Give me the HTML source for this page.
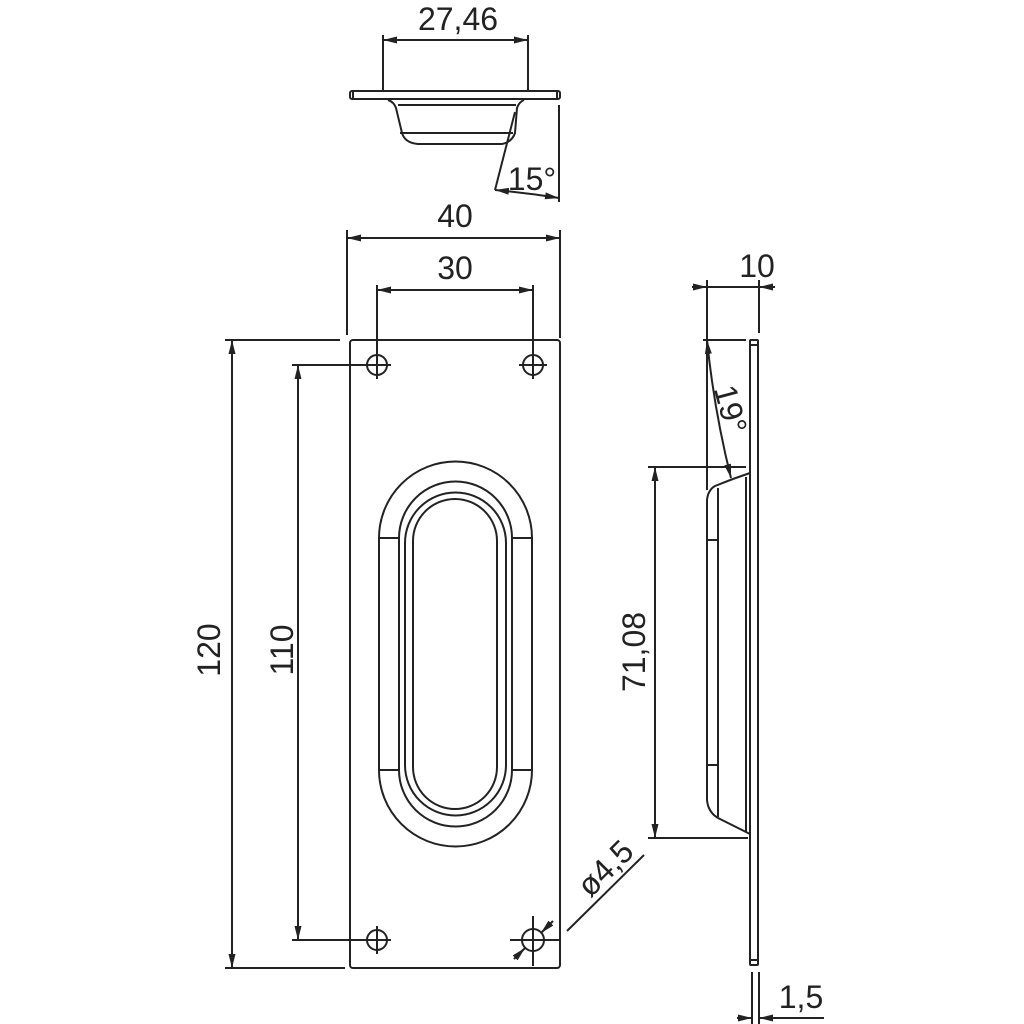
<!DOCTYPE html>
<html><head><meta charset="utf-8"><style>
html,body{margin:0;padding:0;background:#fff}
svg{display:block}
text{font-family:"Liberation Sans",sans-serif;fill:#222}
</style></head><body>
<svg width="1024" height="1024" viewBox="0 0 1024 1024" xmlns="http://www.w3.org/2000/svg">
<defs>
<marker id="a" viewBox="0 0 14 7" refX="14" refY="3.5" markerWidth="14" markerHeight="7" orient="auto-start-reverse" markerUnits="userSpaceOnUse"><path d="M0,0 L14,3.5 L0,7z" fill="#222"/></marker>
</defs>
<g stroke="#222" stroke-width="2" fill="none">
<!-- top view -->
<rect x="350" y="91" width="210" height="8" rx="2"/>
<line x1="353" y1="91" x2="353" y2="99"/><line x1="557" y1="91" x2="557" y2="99"/>
<path d="M388,100 Q394,102 396,108 L402,133 Q405,143 418,144 L502,144 Q512,142 515,133 L517,108 Q519,102 524,100"/>
<line x1="398" y1="105" x2="516" y2="105"/>
<line x1="400" y1="133" x2="513" y2="133"/>
<line x1="383" y1="35" x2="383" y2="92"/><line x1="528" y1="35" x2="528" y2="92"/>
<line x1="383" y1="40" x2="528" y2="40" marker-start="url(#a)" marker-end="url(#a)"/>
<line x1="559" y1="105" x2="559" y2="202"/>
<line x1="515" y1="112" x2="495" y2="190"/>
<path d="M495,190 Q527,193 559,198" marker-start="url(#a)" marker-end="url(#a)"/>
<!-- front plate -->
<rect x="350" y="340" width="210" height="628" rx="3"/>
<line x1="347" y1="230" x2="347" y2="335"/><line x1="560" y1="230" x2="560" y2="338"/>
<line x1="347" y1="238" x2="560" y2="238" marker-start="url(#a)" marker-end="url(#a)"/>
<line x1="377" y1="285" x2="377" y2="352"/><line x1="533" y1="285" x2="533" y2="352"/>
<line x1="377" y1="290" x2="533" y2="290" marker-start="url(#a)" marker-end="url(#a)"/>
<line x1="225" y1="340" x2="340" y2="340"/><line x1="225" y1="968" x2="345" y2="968"/>
<line x1="232" y1="340" x2="232" y2="968" marker-start="url(#a)" marker-end="url(#a)"/>
<line x1="292" y1="365" x2="363" y2="365"/><line x1="292" y1="940" x2="363" y2="940"/>
<line x1="298" y1="365" x2="298" y2="940" marker-start="url(#a)" marker-end="url(#a)"/>
<!-- holes -->
<circle cx="377" cy="365" r="10"/><line x1="363" y1="365" x2="391" y2="365"/><line x1="377" y1="351" x2="377" y2="379"/>
<circle cx="533" cy="365" r="10"/><line x1="519" y1="365" x2="547" y2="365"/><line x1="533" y1="351" x2="533" y2="379"/>
<circle cx="377" cy="940" r="10"/><line x1="363" y1="940" x2="391" y2="940"/><line x1="377" y1="926" x2="377" y2="954"/>
<circle cx="533" cy="940" r="11"/><line x1="510" y1="940" x2="559" y2="940"/><line x1="533" y1="916" x2="533" y2="966"/>
<line x1="553" y1="921" x2="541" y2="933" marker-end="url(#a)"/>
<line x1="514" y1="959" x2="525" y2="948" marker-end="url(#a)"/>
<line x1="567" y1="931" x2="644" y2="855"/>
<!-- oval -->
<path d="M379,538 A76.5,76.5 0 0 1 532,538 L532,770 A76.5,76.5 0 0 1 379,770 Z"/>
<line x1="379" y1="538" x2="399" y2="538"/><line x1="512" y1="538" x2="532" y2="538"/>
<line x1="379" y1="770" x2="399" y2="770"/><line x1="512" y1="770" x2="532" y2="770"/>
<path d="M399,538 A56.5,56.5 0 0 1 512,538 L512,770 A56.5,56.5 0 0 1 399,770 Z"/>
<path d="M405,543 A50.5,50.5 0 0 1 506,543 L506,765 A50.5,50.5 0 0 1 405,765 Z"/>
<path d="M413,541 A42,42 0 0 1 497,541 L497,767 A42,42 0 0 1 413,767 Z"/>
<!-- side view -->
<rect x="750" y="340" width="8" height="625" rx="1"/>
<line x1="750" y1="345" x2="758" y2="345"/><line x1="750" y1="960" x2="758" y2="960"/>
<path d="M750,473 Q732,479 715,486 Q708,490 707,500 L707,800 Q708,812 718,818 L750,834"/>
<line x1="718" y1="488" x2="718" y2="817"/>
<line x1="746" y1="477" x2="746" y2="832"/>
<line x1="707" y1="540" x2="718" y2="540"/><line x1="707" y1="765" x2="718" y2="765"/>
<line x1="707" y1="280" x2="707" y2="490"/><line x1="759" y1="280" x2="759" y2="333"/>
<line x1="692" y1="287" x2="707" y2="287" marker-end="url(#a)"/>
<line x1="775" y1="287" x2="759" y2="287" marker-end="url(#a)"/>
<line x1="707" y1="287" x2="759" y2="287"/>
<line x1="703" y1="340" x2="746" y2="340"/>
<path d="M707,340 Q714,410 731,478" marker-start="url(#a)" marker-end="url(#a)"/>
<line x1="648" y1="467" x2="746" y2="467"/><line x1="648" y1="838" x2="748" y2="838"/>
<line x1="655" y1="467" x2="655" y2="838" marker-start="url(#a)" marker-end="url(#a)"/>
<line x1="752" y1="972" x2="752" y2="1024"/><line x1="759" y1="972" x2="759" y2="1024"/>
<line x1="737" y1="1018" x2="752" y2="1018" marker-end="url(#a)"/>
<line x1="774" y1="1018" x2="759" y2="1018" marker-end="url(#a)"/>
<line x1="759" y1="1018" x2="824" y2="1018"/>
</g>
<g font-size="32">
<text x="458" y="30" text-anchor="middle">27,46</text>
<text x="532" y="190" text-anchor="middle">15°</text>
<text x="455" y="227" text-anchor="middle">40</text>
<text x="455" y="279" text-anchor="middle">30</text>
<text x="757" y="277" text-anchor="middle">10</text>
<text x="801" y="1008" text-anchor="middle">1,5</text>
<text transform="translate(220,650) rotate(-90)" text-anchor="middle">120</text>
<text transform="translate(293,650) rotate(-90)" text-anchor="middle">110</text>
<text transform="translate(645,652) rotate(-90)" text-anchor="middle">71,08</text>
<text transform="translate(720,412) rotate(75)" text-anchor="middle">19°</text>
<text transform="translate(613,876) rotate(-45)" text-anchor="middle">ø4,5</text>
</g>
</svg>
</body></html>
